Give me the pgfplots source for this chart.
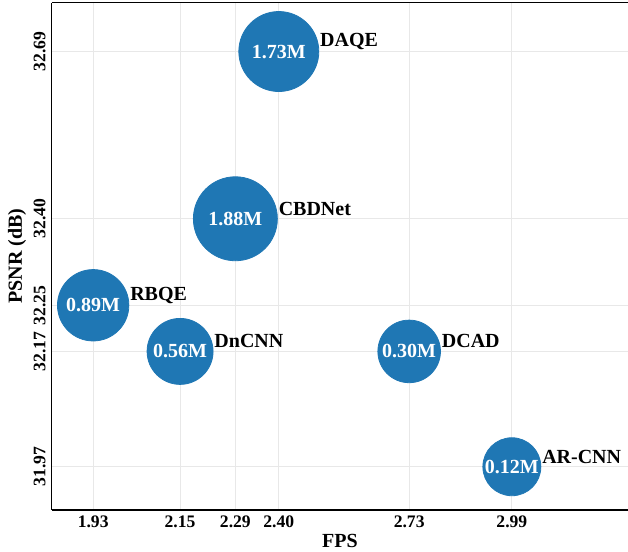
\documentclass[border=0pt]{standalone}
\usepackage{fontspec}
\setmainfont{Liberation Serif}
\usepackage{pgfplots}
\usepackage{pgfplotstable}
\pgfplotsset{compat=1.18}
\definecolor{bubble}{HTML}{1F77B4}
\definecolor{gridgray}{HTML}{E8E8E8}

% fps, psnr, bubble radius (pt), params, method
\pgfplotstableread{
fps  psnr  rad   params name
1.93 32.25 17.85 0.89M  RBQE
2.15 32.17 16.5  0.56M  DnCNN
2.29 32.40 21.0  1.88M  CBDNet
2.40 32.69 20.0  1.73M  DAQE
2.73 32.17 15.65 0.30M  DCAD
2.99 31.97 14.5  0.12M  AR-CNN
}\models

\begin{document}
\begin{tikzpicture}
\begin{axis}[
  name=ax,
  scale only axis,
  width=288.15pt, height=253.75pt,
  xmin=1.825, xmax=3.284,
  ymin=31.895, ymax=32.775,
  axis lines=left,
  axis line style={-, line width=0.6pt},
  xtick={1.93,2.15,2.29,2.40,2.73,2.99},
  xticklabels={1.93,2.15,2.29,2.40,2.73,2.99},
  ytick={31.97,32.17,32.25,32.40,32.69},
  yticklabels={31.97,32.17,32.25,32.40,32.69},
  major tick length=0pt,
  grid=major,
  major grid style={gridgray, line width=0.5pt},
  tick label style={font=\bfseries\fontsize{8.8}{10}\selectfont},
  xticklabel style={anchor=center, yshift=-5.85pt},
  yticklabel style={rotate=90, anchor=center, yshift=6pt},
  xlabel={FPS},
  ylabel={PSNR (dB)},
  label style={font=\bfseries\fontsize{10}{12}\selectfont},
  x label style={at={(axis description cs:0.5,0)}, anchor=center, yshift=-15.5pt},
  y label style={at={(axis description cs:0,0.5)}, anchor=center, yshift=17.3pt},
  clip=false,
]
  % bubbles
  \addplot[scatter, only marks, mark=*,
    mark options={fill=bubble, draw=bubble},
    point meta=\thisrow{rad},
    visualization depends on={\thisrow{rad} \as \rad},
    scatter/@pre marker code/.style={/tikz/mark size=\rad pt},
    scatter/@post marker code/.style={}]
    table[x=fps, y=psnr] {\models};
  % parameter counts inside
  \addplot[only marks, mark=none,
    nodes near coords, point meta=explicit symbolic,
    every node near coord/.append style={anchor=center, text=white,
      font=\bfseries\fontsize{10}{12}\selectfont}]
    table[x=fps, y=psnr, meta=params] {\models};
  % method names
  \addplot[only marks, mark=none,
    nodes near coords, point meta=explicit symbolic,
    visualization depends on={\thisrow{rad} \as \rad},
    every node near coord/.append style={anchor=west, inner sep=0pt,
      xshift=\rad pt+0.5pt, yshift=5pt, text=black,
      font=\bfseries\fontsize{10}{12}\selectfont}]
    table[x=fps, y=psnr, meta=name] {\models};
  \draw[line width=0.6pt] (rel axis cs:0,1) -- (rel axis cs:1,1);
\end{axis}
\pgfresetboundingbox
\path ([xshift=-25.85pt, yshift=-21pt]ax.south west) rectangle ([yshift=1.25pt]ax.north east);
\end{tikzpicture}
\end{document}
